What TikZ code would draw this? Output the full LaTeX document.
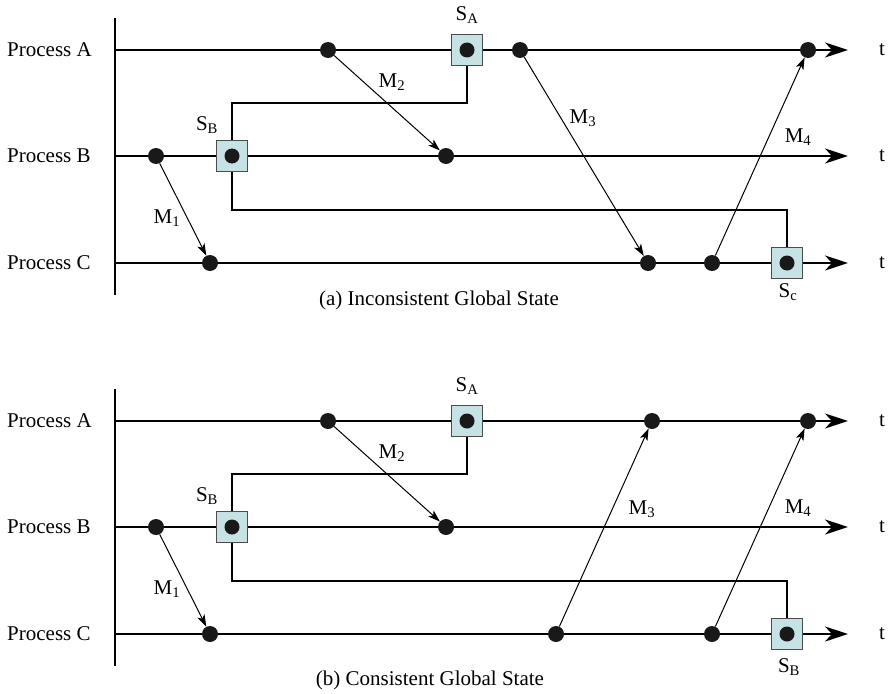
\documentclass[tikz,border=0pt]{standalone}
\usepackage{fontspec}
\setmainfont{Liberation Serif}
\usepackage{xcolor}
\usetikzlibrary{positioning,arrows.meta}

\definecolor{snapfill}{RGB}{198,226,228}

\begin{document}
\begin{tikzpicture}[
      x=1pt, y=-1pt,
      font=\fontsize{21}{25}\selectfont,
      proc/.style={anchor=west, inner sep=0pt},
      axis/.style={line width=2.6pt},
      timeline/.style={line width=2.6pt, -{Stealth[length=23pt, width=15pt, inset=7pt]}},
      event/.style={circle, fill=black!90, inner sep=0pt, minimum size=16pt},
      snapdot/.style={circle, fill=black!90, inner sep=0pt, minimum size=15pt},
      snap/.style={draw=black!70, line width=1.3pt, fill=snapfill,
                   inner sep=0pt, minimum size=31pt},
      cut/.style={line width=2.6pt},
      msg/.style={-{Stealth[length=12pt, width=8pt, inset=3pt]}, line width=1pt},
    ]
    \useasboundingbox (0,0) rectangle (888,693);

    % (a) inconsistent global state
    \draw[axis] (115,18) -- (115,295);
    \foreach \p/\y in {A/50,B/156,C/263}{
      \node[proc] (a-l\p) at (7,\y) {Process \p};
      \coordinate (a-s\p) at (115,\y);
      \coordinate (a-e\p) at (848,\y);
      \node (a-t\p) at (882,\y) {t};
      \draw[timeline] (a-s\p) -- (a-e\p);
    }
    \node[snap] (a-SA) at (467,50) {};
    \node[snap] (a-SB) at (232,156) {};
    \node[snap] (a-SC) at (787,263) {};
    \coordinate (a-cut1) at (232,103);
    \coordinate (a-cut2) at (787,210);
    \draw[cut] (a-SA.south) |- (a-cut1) -- (a-SB.north);
    \draw[cut] (a-SB.south) |- (a-cut2) -- (a-SC.north);
    \node[snapdot] (a-SAd) at (a-SA) {};
    \node[snapdot] (a-SBd) at (a-SB) {};
    \node[snapdot] (a-SCd) at (a-SC) {};
    \node[event] (a-A1) at (328,50) {};
    \node[event] (a-A2) at (520,50) {};
    \node[event] (a-A3) at (808,50) {};
    \node[event] (a-B1) at (156,156) {};
    \node[event] (a-B2) at (446,156) {};
    \node[event] (a-C1) at (210,263) {};
    \node[event] (a-C2) at (648,263) {};
    \node[event] (a-C3) at (712,263) {};
    \draw[msg] (a-B1) -- (a-C1);
    \draw[msg] (a-A1) -- (a-B2);
    \draw[msg] (a-A2) -- (a-C2);
    \draw[msg] (a-C3) -- (a-A3);
    \node (a-m1) at (167,218) {M\textsubscript{1}};
    \node (a-m2) at (392,82) {M\textsubscript{2}};
    \node (a-m3) at (583,118) {M\textsubscript{3}};
    \node (a-m4) at (798,137) {M\textsubscript{4}};
    \node (a-nSA) at (467,15) {S\textsubscript{A}};
    \node (a-nSB) at (207,125) {S\textsubscript{B}};
    \node (a-nSC) at (788,292) {S\textsubscript{c}};
    \node (a-cap) at (439,300) {(a) Inconsistent Global State};

    % (b) consistent global state
    \draw[axis] (115,389) -- (115,666);
    \foreach \p/\y in {A/421,B/527,C/634}{
      \node[proc] (b-l\p) at (7,\y) {Process \p};
      \coordinate (b-s\p) at (115,\y);
      \coordinate (b-e\p) at (848,\y);
      \node (b-t\p) at (882,\y) {t};
      \draw[timeline] (b-s\p) -- (b-e\p);
    }
    \node[snap] (b-SA) at (467,421) {};
    \node[snap] (b-SB) at (232,527) {};
    \node[snap] (b-SC) at (787,634) {};
    \coordinate (b-cut1) at (232,474);
    \coordinate (b-cut2) at (787,581);
    \draw[cut] (b-SA.south) |- (b-cut1) -- (b-SB.north);
    \draw[cut] (b-SB.south) |- (b-cut2) -- (b-SC.north);
    \node[snapdot] (b-SAd) at (b-SA) {};
    \node[snapdot] (b-SBd) at (b-SB) {};
    \node[snapdot] (b-SCd) at (b-SC) {};
    \node[event] (b-A1) at (328,421) {};
    \node[event] (b-A2) at (652,421) {};
    \node[event] (b-A3) at (808,421) {};
    \node[event] (b-B1) at (156,527) {};
    \node[event] (b-B2) at (446,527) {};
    \node[event] (b-C1) at (210,634) {};
    \node[event] (b-C2) at (556,634) {};
    \node[event] (b-C3) at (712,634) {};
    \draw[msg] (b-B1) -- (b-C1);
    \draw[msg] (b-A1) -- (b-B2);
    \draw[msg] (b-C2) -- (b-A2);
    \draw[msg] (b-C3) -- (b-A3);
    \node (b-m1) at (167,589) {M\textsubscript{1}};
    \node (b-m2) at (392,453) {M\textsubscript{2}};
    \node (b-m3) at (642,509) {M\textsubscript{3}};
    \node (b-m4) at (798,508) {M\textsubscript{4}};
    \node (b-nSA) at (467,386) {S\textsubscript{A}};
    \node (b-nSB) at (207,496) {S\textsubscript{B}};
    \node (b-nSC) at (789,667) {S\textsubscript{B}};
    \node (b-cap) at (430,680) {(b) Consistent Global State};
  \end{tikzpicture}
\end{document}
